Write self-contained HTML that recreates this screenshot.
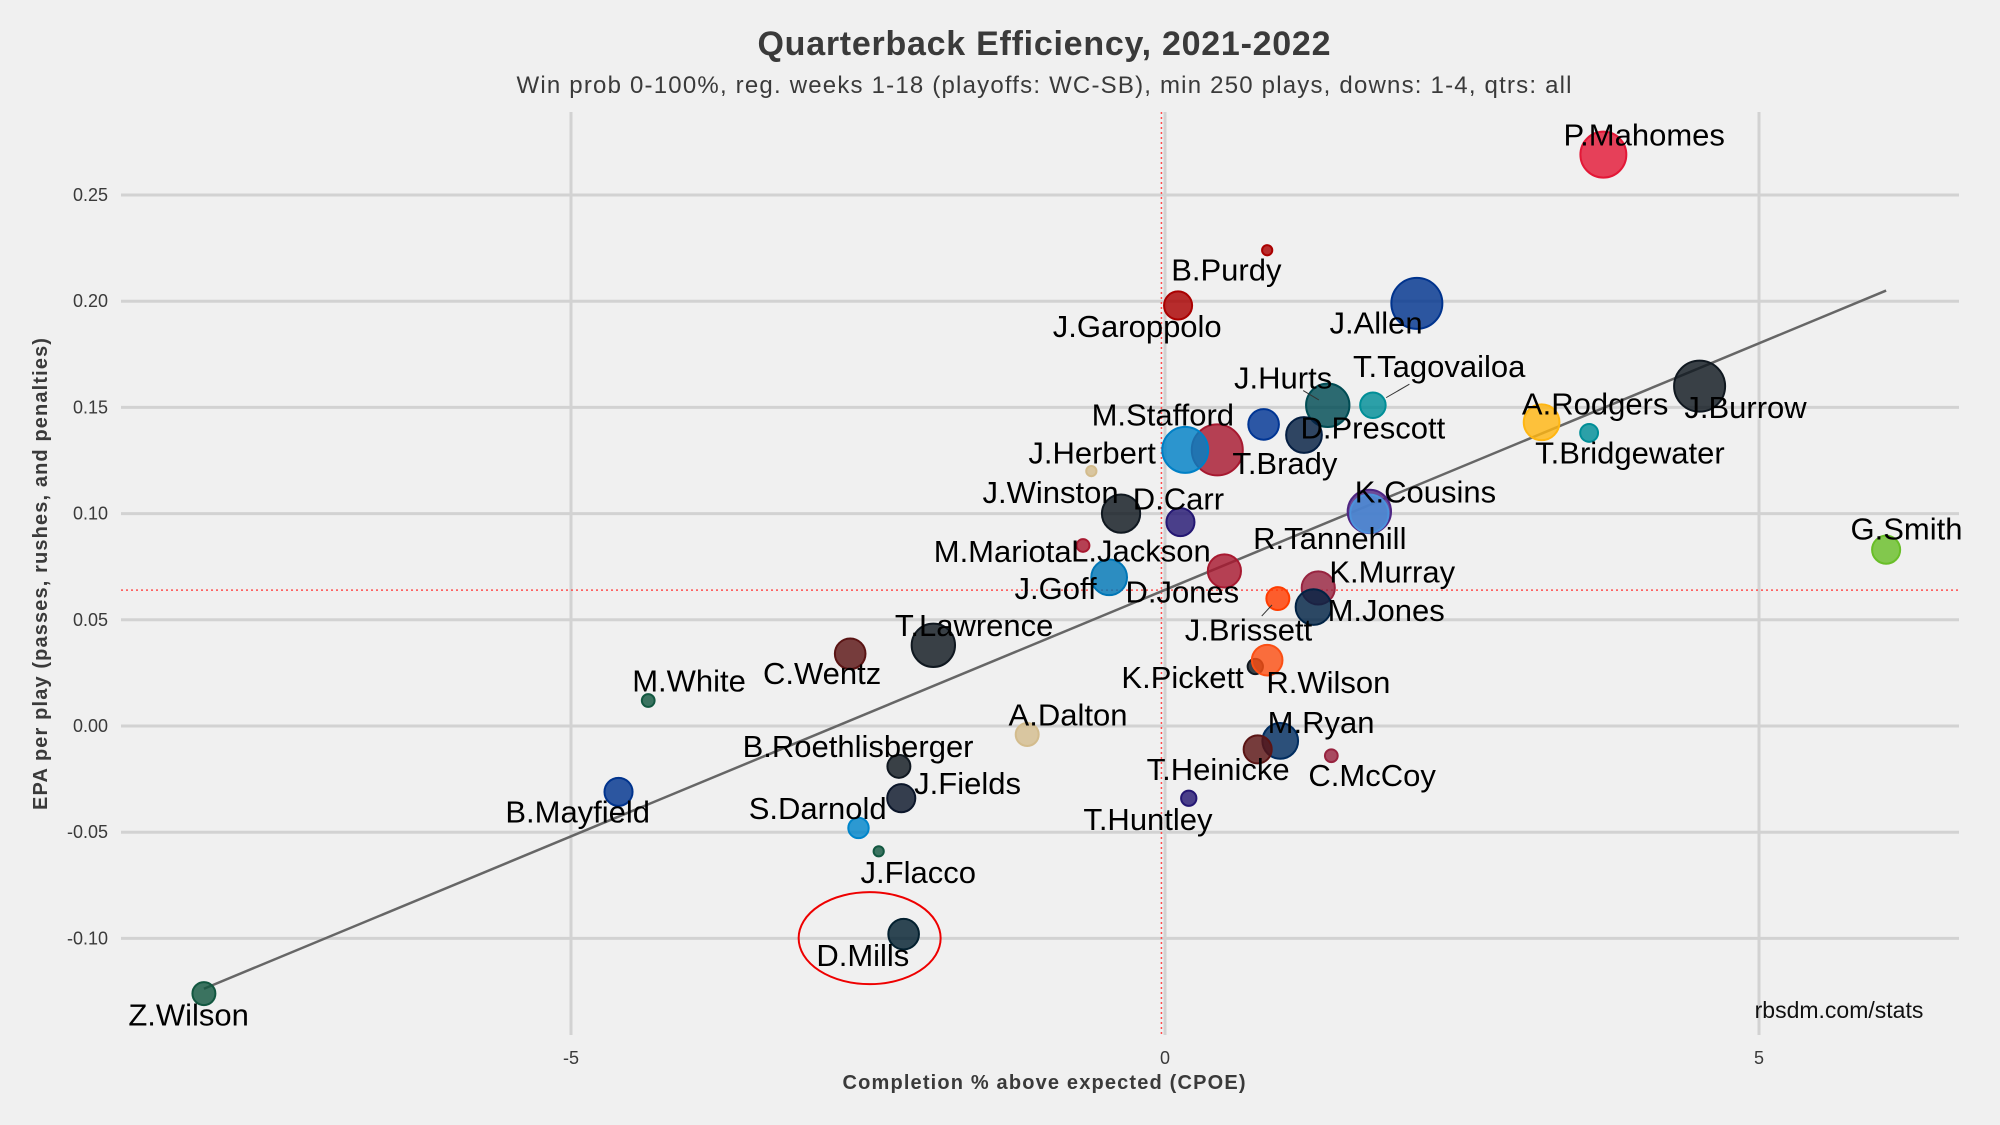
<!DOCTYPE html>
<html><head><meta charset="utf-8"><style>
html,body{margin:0;padding:0;background:#f0f0f0;}
svg{display:block;font-family:"Liberation Sans",sans-serif;}
</style></head><body>
<svg id="chart" width="2000" height="1125" viewBox="0 0 2000 1125" xmlns="http://www.w3.org/2000/svg">
<rect width="2000" height="1125" fill="#f0f0f0"/>
<text x="1044" y="55" text-anchor="middle" font-size="34" font-weight="bold" fill="#3a3a3a" textLength="573">Quarterback Efficiency, 2021-2022</text>
<text x="1044" y="93" text-anchor="middle" font-size="24" fill="#3a3a3a" textLength="1055">Win prob 0-100%, reg. weeks 1-18 (playoffs: WC-SB), min 250 plays, downs: 1-4, qtrs: all</text>
<g id="grid"></g>
<g id="marks"></g>
<g id="labels"></g>
<text x="1839" y="1018" text-anchor="middle" font-size="23" fill="#111">rbsdm.com/stats</text>
<text x="1044" y="1089" text-anchor="middle" font-size="20" font-weight="bold" fill="#3a3a3a" font-family="Liberation Sans Narrow, Liberation Sans, sans-serif" textLength="403">Completion % above expected (CPOE)</text>
<text transform="translate(47,574) rotate(-90)" text-anchor="middle" font-size="20" font-weight="bold" fill="#3a3a3a" font-family="Liberation Sans Narrow, Liberation Sans, sans-serif" textLength="472">EPA per play (passes, rushes, and penalties)</text>
</svg>
<script>
const names=["P.Mahomes","B.Purdy","J.Allen","J.Garoppolo","J.Burrow","T.Tagovailoa","J.Hurts","D.Prescott","M.Stafford","T.Brady","J.Herbert","J.Winston","D.Carr","L.Jackson","K.Cousins","R.Tannehill","D.Jones","K.Murray","M.Jones","J.Brissett","M.Mariota","J.Goff","A.Rodgers","T.Bridgewater","G.Smith","T.Lawrence","C.Wentz","M.White","K.Pickett","R.Wilson","A.Dalton","M.Ryan","T.Heinicke","C.McCoy","B.Roethlisberger","B.Mayfield","J.Fields","T.Huntley","S.Darnold","J.Flacco","D.Mills","Z.Wilson"];
const cpoe=[3.69,0.86,2.12,0.11,4.50,1.75,1.37,1.17,0.83,0.44,0.17,-0.62,-0.37,0.13,1.72,1.72,0.50,1.29,1.25,0.95,-0.69,-0.47,3.17,3.57,6.07,-1.95,-2.65,-4.35,0.76,0.86,-1.16,0.97,0.78,1.40,-2.24,-4.60,-2.22,0.20,-2.58,-2.41,-2.20,-8.09];
const epa=[0.269,0.224,0.199,0.198,0.160,0.151,0.151,0.137,0.142,0.130,0.130,0.120,0.100,0.096,0.101,0.100,0.073,0.065,0.056,0.060,0.085,0.070,0.143,0.138,0.083,0.038,0.034,0.012,0.028,0.031,-0.004,-0.007,-0.011,-0.014,-0.019,-0.031,-0.034,-0.034,-0.048,-0.059,-0.098,-0.126];
const plays=[18,4,20,11,20,10,17,14,12,20,18,4,15,11,17,15,13,13,14,9,5,14,14,7,11,17,12,5,6,12,9,14,11,5,9,11,11,6,8,4,12,9];
const colors=["#e31837","#aa0000","#00338d","#aa0000","#101820","#008e97","#004c54","#041e42","#003594","#a71930","#0080c6","#d3bc8d","#101820","#241773","#4f2683","#4b92db","#a71930","#97233f","#002244","#ff3c00","#a71930","#0076b6","#ffb612","#008e97","#69be28","#101820","#5a1414","#125740","#101820","#fb4f14","#d3bc8d","#002c5f","#5a1414","#97233f","#101820","#00338d","#0b162a","#241773","#0085ca","#125740","#03202f","#125740"];
const labelDx=[32,-32,-32,-32,36,52,-35,54,-79,53,-73,-32,45,-31,44,-31,-33,58,57,-23,-63,-42,42,32,16,32,-22,32,-57,48,32,32,-31,32,-32,-32,52,-32,-32,31,-32,-12];
const labelDy=[-15,16,16,17,17,-30,-21,-5,-7,11,3,17,-11,23,-15,20,17,-12,3,25,5,9,-14,16,-16,-15,16,-15,9,18,-15,-14,16,16,-15,16,-11,17,-15,17,17,17];
const leader=["T.Tagovailoa","J.Hurts","J.Brissett"];
const xTicks=[-5,0,5];
const xTickLabels=["-5","0","5"];
const yTicks=[-0.10,-0.05,0.00,0.05,0.10,0.15,0.20,0.25];
const yTickLabels=["-0.10","-0.05","0.00","0.05","0.10","0.15","0.20","0.25"];
const fitX=[-8.09,6.07];
const fitY=[-0.1237,0.205];
const meanCpoe=[-0.03];
const meanEpa=[0.064];
const highlight=["D.Mills"];

const X=v=>1165+118.8*v;
const Y=v=>726-2124*v;
const S=1.2755;
const NS="http://www.w3.org/2000/svg";
function mk(tag,attrs,parent){const e=document.createElementNS(NS,tag);for(const k in attrs)e.setAttribute(k,attrs[k]);parent.appendChild(e);return e;}
const grid=document.getElementById('grid'),marks=document.getElementById('marks'),labels=document.getElementById('labels');

yTicks.forEach((t,i)=>{
  const l=mk('line',{x1:121,x2:1959,y1:Y(t),y2:Y(t),stroke:'#d2d2d2','stroke-width':3},grid);
  
  
  const tx=mk('text',{x:108,y:Y(t)+6,'text-anchor':'end','font-size':18,fill:'#3a3a3a'},grid);
  tx.textContent=yTickLabels[i];
  
  
});
xTicks.forEach((t,i)=>{
  const l=mk('line',{x1:X(t),x2:X(t),y1:112,y2:1035,stroke:'#d2d2d2','stroke-width':3},grid);
  
  
  const tx=mk('text',{x:X(t),y:1064,'text-anchor':'middle','font-size':18,fill:'#3a3a3a'},grid);
  tx.textContent=xTickLabels[i];
  
  
});
const mv=mk('line',{x1:X(meanCpoe[0]),x2:X(meanCpoe[0]),y1:112,y2:1035,stroke:'#ff4d4d','stroke-width':1.5,'stroke-dasharray':'2,3'},grid);


const mh=mk('line',{x1:121,x2:1959,y1:Y(meanEpa[0]),y2:Y(meanEpa[0]),stroke:'#ff4d4d','stroke-width':1.5,'stroke-dasharray':'2,3'},grid);


const fit=mk('line',{x1:X(fitX[0]),y1:Y(fitY[0]),x2:X(fitX[1]),y2:Y(fitY[1]),stroke:'#666','stroke-width':2.5},grid);



names.forEach((n,i)=>{
  const cx=X(cpoe[i]),cy=Y(epa[i]);
  const c=mk('circle',{cx:cx,cy:cy,r:plays[i]*S,fill:colors[i],'fill-opacity':0.82,stroke:colors[i],'stroke-width':2},marks);
  
  
  const lx=cx+labelDx[i]*S,ly=cy+labelDy[i]*S;
  if(leader.includes(n)){
    const ll=mk('line',{x1:cx+(lx-cx)*0.2,y1:cy+(ly-cy)*0.2,x2:cx+(lx-cx)*0.55,y2:cy+(ly-cy)*0.55,stroke:'#333','stroke-width':1},labels);
    
    
  }
  const t=mk('text',{x:lx,y:ly+10,'text-anchor':'middle','font-size':31,fill:'#000'},labels);
  t.textContent=n;
  
  
  if(highlight.includes(n)){
    const e=mk('ellipse',{cx:cx-34,cy:cy+4,rx:71,ry:46,fill:'none',stroke:'#e00','stroke-width':2},labels);
    
    
  }
});
</script>
</body></html>
